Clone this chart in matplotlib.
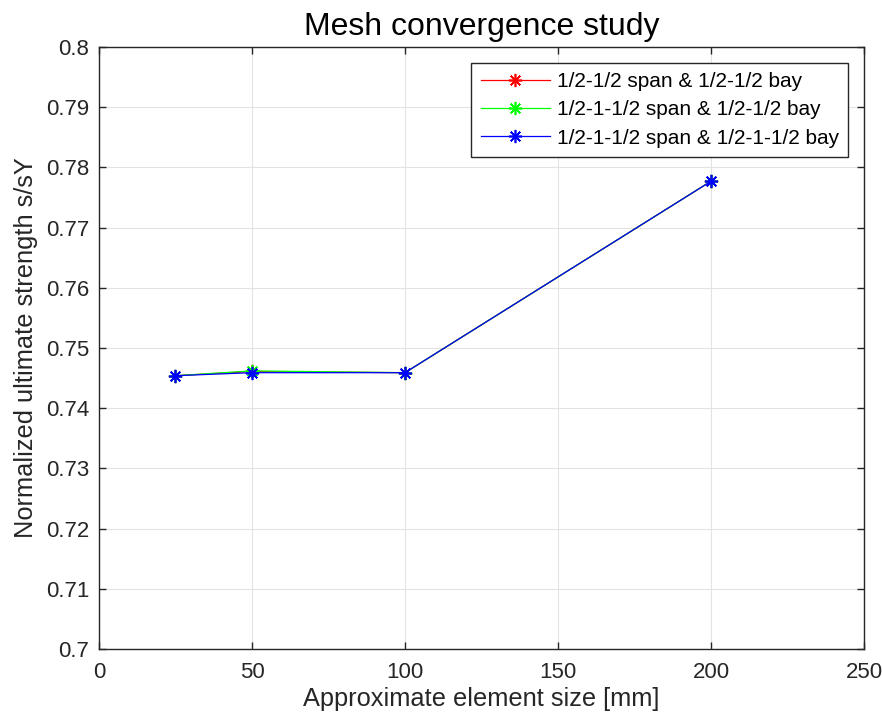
import matplotlib
matplotlib.use('Agg')
import matplotlib.pyplot as plt

matplotlib.rcParams['font.family'] = ['Liberation Sans', 'DejaVu Sans']

# Data
size_mm = [25, 50, 100, 200]
s_red = [0.7454, 0.7461, 0.7459, 0.7777]
s_green = [0.7454, 0.7462, 0.7459, 0.7777]
s_blue = [0.7454, 0.7459, 0.7459, 0.7777]
labels = ['1/2-1/2 span & 1/2-1/2 bay',
          '1/2-1-1/2 span & 1/2-1/2 bay',
          '1/2-1-1/2 span & 1/2-1-1/2 bay']
yticks = [0.7, 0.71, 0.72, 0.73, 0.74, 0.75, 0.76, 0.77, 0.78, 0.79, 0.8]
ytick_labels = ['0.7', '0.71', '0.72', '0.73', '0.74', '0.75', '0.76', '0.77', '0.78', '0.79', '0.8']

fig, ax = plt.subplots(1, 1, figsize=(8.82, 7.22), dpi=100)
fig.subplots_adjust(left=0.1122, right=0.9796, top=0.9349, bottom=0.1011)

star = (8, 2, 0)  # MATLAB-like asterisk
ax.plot(size_mm, s_red, '-', color='#ff0000', marker=star, markersize=9.5, mew=1.2, lw=0.9, label=labels[0])
ax.plot(size_mm, s_green, '-', color='#00ff00', marker=star, markersize=9.5, mew=1.2, lw=0.9, label=labels[1])
ax.plot(size_mm, s_blue, '-', color='#0000ff', marker=star, markersize=9.5, mew=1.2, lw=0.9, label=labels[2])

ax.set_xlim([0, 250])
ax.set_ylim([0.7, 0.8])
ax.set_xticks(range(0, 251, 50))
ax.set_yticks(yticks)
ax.set_yticklabels(ytick_labels)
ax.tick_params(direction='in', labelsize=16, colors='#262626', length=5, width=1,
               top=True, right=True)
ax.tick_params(axis='x', pad=9)
ax.tick_params(axis='y', pad=7)
ax.grid(True, color='#e3e3e3', lw=0.8)
ax.set_axisbelow(True)
for sp in ax.spines.values():
    sp.set_color('#262626')
    sp.set_linewidth(1.0)

ax.set_xlabel('Approximate element size [mm]', fontsize=18.3, color='#262626', labelpad=3)
ax.set_ylabel('Normalized ultimate strength s/sY', fontsize=18.3, color='#262626', labelpad=6)
ax.set_title('Mesh convergence study', fontsize=23, color='black', pad=9)

leg = ax.legend(loc='upper right', fontsize=15, fancybox=False, framealpha=1,
                edgecolor='#262626', borderaxespad=0.75, handlelength=3.3,
                handletextpad=0.35, labelspacing=0.45, borderpad=0.45)
leg.get_frame().set_linewidth(1.0)

fig.savefig('out.png')
